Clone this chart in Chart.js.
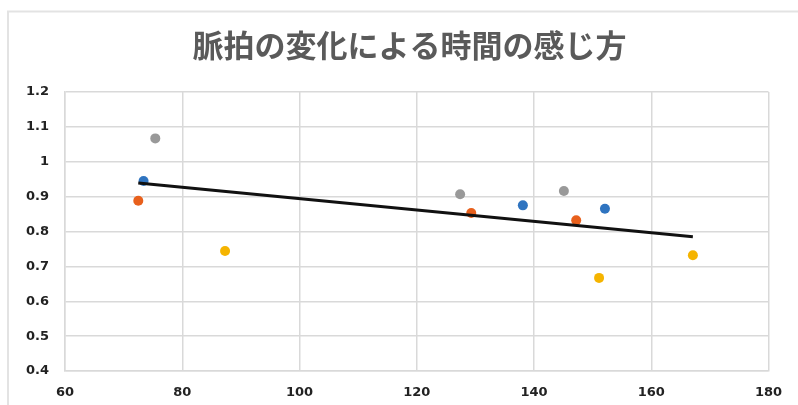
<!DOCTYPE html>
<html>
<head>
<meta charset="utf-8">
<script src="https://cdn.jsdelivr.net/npm/chart.js@4"></script>
<style>
  html, body { margin: 0; padding: 0; background: #fff; }
  #wrap { width: 798px; height: 405px; }
</style>
</head>
<body>
<div id="wrap"><canvas id="pulseChart" width="798" height="405"></canvas></div>
<script>
const titleText = '脈拍の変化による時間の感じ方';

// 脈拍 (x) と 時間の感じ方 (y)
const blueX = [73.4, 138.1, 152.1];
const blueY = [0.945, 0.875, 0.865];
const orangeX = [72.5, 129.3, 147.2];
const orangeY = [0.888, 0.853, 0.832];
const grayX = [75.4, 127.4, 145.1];
const grayY = [1.067, 0.907, 0.916];
const yellowX = [87.3, 151.1, 167.1];
const yellowY = [0.744, 0.667, 0.732];

// 近似直線の両端
const trendX = [72.5, 167.1];
const trendY = [0.939, 0.785];

const xTicks = [60, 80, 100, 120, 140, 160, 180];
const yTicks = [0.4, 0.5, 0.6, 0.7, 0.8, 0.9, 1, 1.1, 1.2];

function toPoints(xs, ys) {
    return xs.map((x, i) => ({ x: x, y: ys[i] }));
}

function dots(xs, ys, color) {
    return {
        type: 'scatter',
        data: toPoints(xs, ys),
        backgroundColor: color,
        borderColor: color,
        borderWidth: 0,
        pointRadius: 5,
        order: 1
    };
}

// 枠とタイトル
const frameAndTitle = {
    id: 'frameAndTitle',
    beforeDraw(chart) {
        const c = chart.ctx;
        c.save();
        c.fillStyle = '#fff';
        c.fillRect(0, 0, chart.width, chart.height);
        c.strokeStyle = '#e3e3e3';
        c.lineWidth = 2;
        c.strokeRect(8, 11.5, chart.width + 10, chart.height + 10);
        c.restore();
    },
    afterDraw(chart) {
        const c = chart.ctx;
        c.save();
        c.font = 'bold 31px "Noto Sans CJK JP"';
        c.fillStyle = '#5a5a5a';
        c.textAlign = 'center';
        c.textBaseline = 'middle';
        c.fillText(titleText, 409.5, 45);
        c.restore();
    }
};

const ctx = document.getElementById('pulseChart').getContext('2d');

new Chart(ctx, {
    type: 'scatter',
    data: {
        datasets: [
            {
                type: 'line',
                data: toPoints(trendX, trendY),
                borderColor: '#111',
                borderWidth: 3,
                pointRadius: 0,
                fill: false,
                order: 0
            },
            dots(blueX, blueY, '#2f74c0'),
            dots(orangeX, orangeY, '#e8601c'),
            dots(grayX, grayY, '#999999'),
            dots(yellowX, yellowY, '#f5b400')
        ]
    },
    options: {
        responsive: false,
        animation: false,
        layout: {
            padding: { top: 92, right: 29.5, bottom: 0, left: 0 }
        },
        plugins: {
            legend: { display: false },
            title: { display: false },
            tooltip: { enabled: false }
        },
        scales: {
            x: {
                type: 'linear',
                min: 60,
                max: 180,
                afterBuildTicks: axis => { axis.ticks = xTicks.map(v => ({ value: v })); },
                afterFit: axis => { axis.height = 34; },
                grid: { color: '#d9d9d9', lineWidth: 1.5, drawTicks: false },
                border: { color: '#d9d9d9', width: 1.5 },
                ticks: {
                    padding: 14,
                    color: '#222',
                    font: { family: 'DejaVu Sans', size: 13, weight: 'bold' }
                }
            },
            y: {
                type: 'linear',
                min: 0.4,
                max: 1.2,
                afterBuildTicks: axis => { axis.ticks = yTicks.map(v => ({ value: v })); },
                afterFit: axis => { axis.width = 65; },
                grid: { color: '#d9d9d9', lineWidth: 1.5, drawTicks: false },
                border: { color: '#d9d9d9', width: 1.5 },
                ticks: {
                    padding: 16,
                    color: '#222',
                    font: { family: 'DejaVu Sans', size: 13, weight: 'bold' },
                    callback: v => String(Math.round(v * 10) / 10)
                }
            }
        }
    },
    plugins: [frameAndTitle]
});
</script>
</body>
</html>
